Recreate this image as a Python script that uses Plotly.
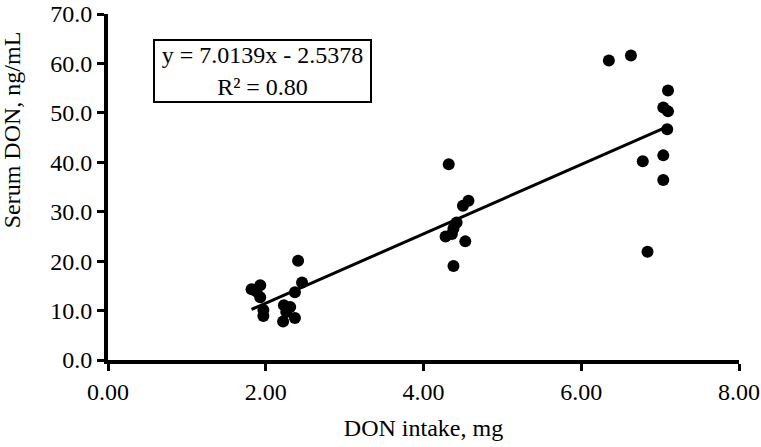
import plotly.graph_objects as go

# DON intake (mg) and serum DON (ng/mL)
don_intake = [1.82, 1.93, 1.93, 1.97, 1.97, 1.88, 2.23, 2.26, 2.31, 2.22, 2.37, 2.37, 2.41, 2.46,
              4.32, 4.57, 4.50, 4.42, 4.38, 4.28, 4.36, 4.53, 4.38,
              6.35, 6.63, 7.10, 7.04, 7.10, 7.09, 6.78, 7.04, 7.04, 6.84]
serum_don = [14.3, 15.1, 12.7, 10.1, 8.9, 13.9, 11.1, 9.7, 10.7, 7.8, 8.5, 13.7, 20.1, 15.7,
             39.6, 32.2, 31.2, 27.8, 26.6, 25.0, 25.5, 24.0, 19.0,
             60.6, 61.6, 54.5, 51.1, 50.3, 46.7, 40.2, 41.4, 36.4, 21.9]

slope = 7.0139
intercept = -2.5378
fit_x = [min(don_intake), max(don_intake)]
fit_y = [slope * v + intercept for v in fit_x]

x_ticks = [0, 2, 4, 6, 8]
y_ticks = [0, 10, 20, 30, 40, 50, 60, 70]

FONT = "Liberation Serif"

fig = go.Figure()
fig.add_trace(go.Scatter(x=fit_x, y=fit_y, mode="lines",
                         line=dict(color="black", width=3), showlegend=False,
                         cliponaxis=False))
fig.add_trace(go.Scatter(x=don_intake, y=serum_don, mode="markers",
                         marker=dict(color="black", size=12), showlegend=False,
                         cliponaxis=False))

fig.add_annotation(xref="paper", yref="paper", x=0.245, y=0.835,
                   xanchor="center", yanchor="middle",
                   text="y = 7.0139x - 2.5378<br>R² = 0.80",
                   showarrow=False, align="center",
                   width=213, height=58,
                   font=dict(family=FONT, size=24, color="black"),
                   bordercolor="black", borderwidth=2, borderpad=1,
                   bgcolor="white")

# y axis title placed as rotated text (sits above the plot centre in the reference)
fig.add_annotation(xref="paper", yref="paper", x=-0.153, y=0.665,
                   xanchor="center", yanchor="middle", textangle=-90,
                   text="Serum DON, ng/mL", showarrow=False,
                   font=dict(family=FONT, size=24, color="black"))

fig.update_layout(
    width=761, height=447,
    margin=dict(l=108, r=22, t=14, b=87, autoexpand=False),
    paper_bgcolor="white", plot_bgcolor="white",
    font=dict(family=FONT, size=24, color="black"),
    xaxis=dict(range=[0, 8], tickvals=x_ticks,
               ticktext=[f"{v:.2f}" for v in x_ticks],
               showgrid=False, zeroline=False, automargin=False,
               showline=True, linecolor="black", linewidth=4,
               ticks="outside", ticklen=7, tickwidth=3, tickcolor="black",
               title=dict(text="DON intake, mg", font=dict(family=FONT, size=24), standoff=16)),
    yaxis=dict(range=[0, 70], tickvals=y_ticks,
               ticktext=[f"{v:.1f}" for v in y_ticks],
               showgrid=False, zeroline=False, automargin=False,
               showline=True, linecolor="black", linewidth=4,
               ticks="outside", ticklen=7, tickwidth=3, tickcolor="black"),
)

fig.write_html("out.html", config={"displayModeBar": False},
               post_script="document.body.style.margin='0';")
